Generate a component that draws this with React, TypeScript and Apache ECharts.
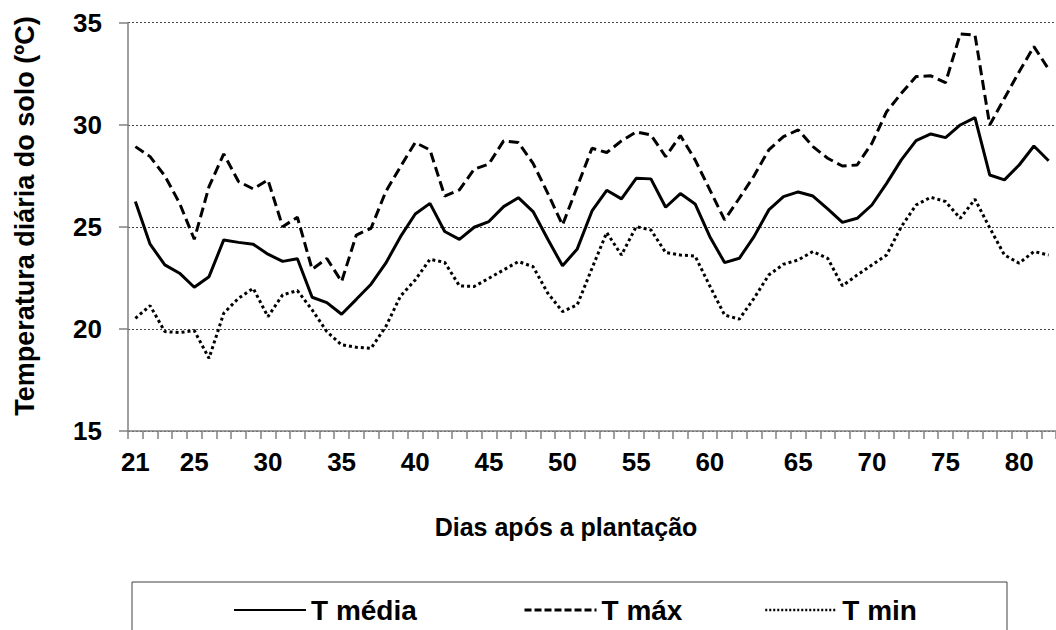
import React, { useEffect, useRef } from "react";
import * as echarts from "echarts";

const days: string[] = [
  "21","22","23","24","25","26","27","28","29","30",
  "31","32","33","34","35","36","37","38","39","40",
  "41","42","43","44","45","46","47","48","49","50",
  "51","52","53","54","55","56","57","58","59","60",
  "61","62","63","64","64b","65","66","67","68","69",
  "70","71","72","73","74","75","76","77","78","79",
  "80","81","82",
];

const tickLabels: string[] = [
  "21","","","","25","","","","","30",
  "","","","","35","","","","","40",
  "","","","","45","","","","","50",
  "","","","","55","","","","","60",
  "","","","","","65","","","","",
  "70","","","","","75","","","","",
  "80","","",
];

const tMedia: number[] = [
  26.24, 24.15, 23.14, 22.73, 22.04, 22.56, 24.36, 24.24, 24.15, 23.66,
  23.31, 23.44, 21.55, 21.29, 20.72, 21.45, 22.19, 23.22, 24.52, 25.63,
  26.15, 24.77, 24.39, 24.98, 25.26, 25.99, 26.43, 25.75, 24.39, 23.09,
  23.92, 25.78, 26.79, 26.37, 27.38, 27.35, 25.96, 26.63, 26.12, 24.52,
  23.25, 23.46, 24.52, 25.83, 26.48, 26.71, 26.51, 25.88, 25.22, 25.42,
  26.07, 27.13, 28.28, 29.22, 29.55, 29.37, 29.99, 30.35, 27.54, 27.3,
  28.03, 28.96, 28.24,
];

const tMax: number[] = [
  28.93, 28.44, 27.5, 26.16, 24.39, 26.97, 28.57, 27.22, 26.86, 27.3,
  25.01, 25.47, 22.92, 23.45, 22.32, 24.6, 24.93, 26.73, 27.95, 29.13,
  28.77, 26.51, 26.81, 27.82, 28.08, 29.21, 29.13, 28.11, 26.64, 25.09,
  26.97, 28.85, 28.64, 29.21, 29.65, 29.5, 28.44, 29.47, 28.28, 26.81,
  25.34, 26.4, 27.5, 28.77, 29.42, 29.75, 28.93, 28.36, 27.98, 28.03,
  29.09, 30.64, 31.54, 32.36, 32.4, 32.06, 34.45, 34.4, 29.99, 31.3,
  32.6, 33.83, 32.72,
];

const tMin: number[] = [
  20.52, 21.14, 19.87, 19.82, 19.92, 18.56, 20.77, 21.5, 21.99, 20.6,
  21.67, 21.88, 20.93, 19.87, 19.22, 19.1, 19.05, 20.11, 21.61, 22.4,
  23.41, 23.26, 22.11, 22.08, 22.48, 22.89, 23.3, 23.05, 21.75, 20.85,
  21.18, 22.97, 24.72, 23.62, 25.01, 24.85, 23.74, 23.62, 23.57, 22.1,
  20.68, 20.48, 21.5, 22.64, 23.17, 23.38, 23.79, 23.46, 22.11, 22.64,
  23.13, 23.62, 25.01, 26.07, 26.45, 26.24, 25.42, 26.35, 24.95, 23.62,
  23.22, 23.79, 23.62,
];

const FONT = "'Liberation Sans', Arial, Helvetica, sans-serif";

export default function App() {
  const ref = useRef<HTMLDivElement>(null);

  useEffect(() => {
    document.body.style.margin = "0";
    if (!ref.current) return;
    const chart = echarts.init(ref.current, undefined, { renderer: "svg" });

    const legendBase = {
      top: 591,
      itemWidth: 72,
      itemHeight: 14,
      itemStyle: { opacity: 0, borderWidth: 0 },
      textStyle: { color: "#000", fontSize: 28, fontWeight: "bold" as const, fontFamily: FONT },
      selectedMode: false,
    };

    chart.setOption({
      animation: false,
      backgroundColor: "#fff",
      grid: { left: 128, top: 22.7, width: 929.5, height: 408.3, containLabel: false },
      xAxis: {
        type: "category",
        data: days,
        boundaryGap: true,
        axisLine: { show: true, lineStyle: { color: "#808080", width: 1.5 } },
        axisTick: { show: true, interval: 0, length: 8, lineStyle: { color: "#808080", width: 1.5 } },
        axisLabel: {
          interval: 0,
          formatter: (_v: string, i: number) => tickLabels[i],
          color: "#000",
          fontSize: 26,
          fontWeight: "bold",
          fontFamily: FONT,
          margin: 18,
        },
        splitLine: { show: false },
      },
      yAxis: {
        type: "value",
        min: 15,
        max: 35,
        interval: 5,
        axisLine: { show: true, lineStyle: { color: "#808080", width: 1.5 } },
        axisTick: { show: true, length: 9, lineStyle: { color: "#808080", width: 1.5 } },
        axisLabel: {
          color: "#000",
          fontSize: 26,
          fontWeight: "bold",
          fontFamily: FONT,
          margin: 26,
        },
        splitLine: { show: true, lineStyle: { color: "#444", width: 1, type: [2, 2] } },
      },
      legend: [
        { ...legendBase, left: 228, data: ["T média"] },
        { ...legendBase, left: 518, data: ["T máx"], lineStyle: { type: [7, 3], width: 3 } },
        { ...legendBase, left: 759, data: ["T min"], lineStyle: { type: [2, 2], width: 2.5 } },
      ],
      graphic: [
        {
          type: "rect",
          shape: { x: 132, y: 582, width: 875, height: 60 },
          style: { fill: "none", stroke: "#404040", lineWidth: 1 },
          silent: true,
        },
        {
          type: "text",
          x: 566,
          y: 527,
          style: {
            text: "Dias após a plantação",
            fill: "#000",
            font: `bold 25px ${FONT}`,
            align: "center",
            verticalAlign: "middle",
          },
        },
        {
          type: "text",
          x: 25,
          y: 216,
          rotation: Math.PI / 2,
          style: {
            text: "Temperatura diária do solo (ºC)",
            fill: "#000",
            font: `bold 27px ${FONT}`,
            align: "center",
            verticalAlign: "middle",
          },
        },
      ],
      series: [
        {
          name: "T média",
          type: "line",
          data: tMedia,
          showSymbol: false,
          symbol: "none",
          lineStyle: { color: "#000", width: 3, type: "solid" },
          itemStyle: { color: "#000" },
        },
        {
          name: "T máx",
          type: "line",
          data: tMax,
          showSymbol: false,
          symbol: "none",
          lineStyle: { color: "#000", width: 3, type: [10, 5] },
          itemStyle: { color: "#000" },
        },
        {
          name: "T min",
          type: "line",
          data: tMin,
          showSymbol: false,
          symbol: "none",
          lineStyle: { color: "#000", width: 3, type: [3, 3] },
          itemStyle: { color: "#000" },
        },
      ],
    });

    return () => chart.dispose();
  }, []);

  return <div ref={ref} style={{ width: 1056, height: 630 }} />;
}
